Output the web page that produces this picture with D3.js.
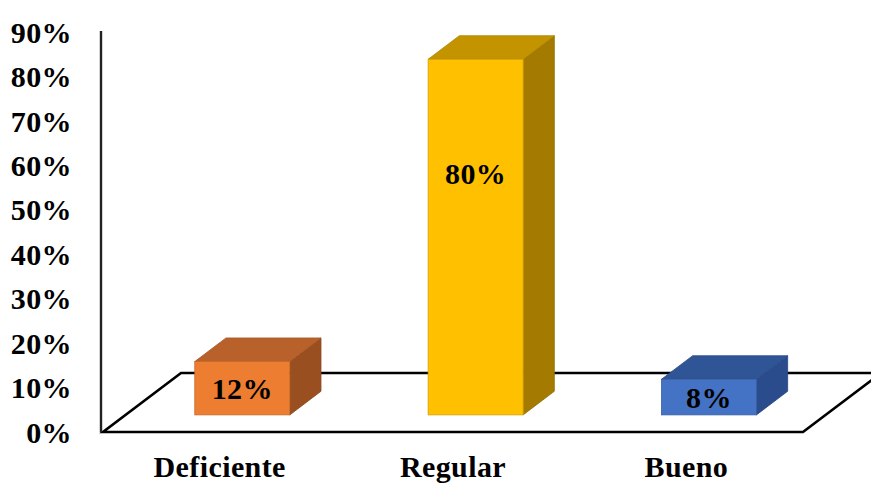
<!DOCTYPE html>
<html>
<head>
<meta charset="utf-8">
<script src="https://cdn.jsdelivr.net/npm/d3@7"></script>
<style>
  html, body { margin: 0; padding: 0; background: #ffffff; }
  svg text { font-family: "Liberation Serif", "Times New Roman", serif; font-weight: bold; fill: #000; letter-spacing: 0.4px; }
</style>
</head>
<body>
<svg id="chart" width="871" height="484"></svg>
<script>
// Chart data
const categories = ["Deficiente", "Regular", "Bueno"];
const values = [0.12, 0.80, 0.08];
const valueLabels = ["12%", "80%", "8%"];
const tickValues = [0, 0.1, 0.2, 0.3, 0.4, 0.5, 0.6, 0.7, 0.8, 0.9];
const frontColors = ["#ED7D31", "#FFC000", "#4472C4"];
const topColors = ["#B9612A", "#C49400", "#2F5597"];
const sideColors = ["#9A4F21", "#A47B00", "#2A4C8C"];

const svg = d3.select("#chart");

// Floor geometry (front edge and depth direction of the 3D floor)
const floorX0 = 103, floorX1 = 803, floorY = 432;
const depthX = 78, depthY = -59;
// Bars occupy the middle slice of the floor depth
const d0 = 0.29, d1 = 0.69;

// Category bands along the floor front edge
const x = d3.scaleBand().domain(categories).range([floorX0, floorX1]).padding(0);
const barWidth = 95;

// Value scale for the axis labels
const y = d3.scaleLinear().domain([0, 0.9]).range([floorY, 32]);
const pxPerUnit = floorY - y(1);

// Floor outline
const floorPts = [
  [floorX0, floorY],
  [floorX1, floorY],
  [floorX1 + depthX, floorY + depthY],
  [floorX0 + depthX, floorY + depthY]
];
svg.append("path")
  .attr("d", d3.line()(floorPts) + "Z")
  .attr("fill", "none")
  .attr("stroke", "#000")
  .attr("stroke-width", 2.6)
  .attr("stroke-linejoin", "miter");

// Vertical axis line
svg.append("line")
  .attr("x1", 101).attr("x2", 101)
  .attr("y1", y(0)).attr("y2", 31)
  .attr("stroke", "#222")
  .attr("stroke-width", 2.4);

// Axis tick labels
const axis = d3.axisLeft(y)
  .tickValues(tickValues)
  .tickFormat(d3.format(".0%"))
  .tickSize(0)
  .tickPadding(0);
const axisG = svg.append("g")
  .attr("transform", "translate(72,0)")
  .call(axis);
axisG.select(".domain").remove();
axisG.selectAll("text")
  .attr("font-size", 30)
  .attr("font-family", null)
  .attr("fill", "#000")
  .attr("dy", "0.34em");

// Bars as 3D boxes
const bars = svg.append("g");
categories.forEach((c, i) => {
  const bx = x(c) + x.bandwidth() / 2 + depthX * d0 - barWidth / 2;
  const by = floorY + depthY * d0;            // front bottom
  const h = values[i] * pxPerUnit;
  const top = by - h;
  const ox = depthX * (d1 - d0), oy = depthY * (d1 - d0);

  const g = bars.append("g");
  // side face
  g.append("path")
    .attr("d", d3.line()([[bx + barWidth, by], [bx + barWidth + ox, by + oy], [bx + barWidth + ox, top + oy], [bx + barWidth, top]]) + "Z")
    .attr("fill", sideColors[i])
    .attr("stroke", d3.color(sideColors[i]).darker(0.3))
    .attr("stroke-width", 0.8);
  // top face
  g.append("path")
    .attr("d", d3.line()([[bx, top], [bx + barWidth, top], [bx + barWidth + ox, top + oy], [bx + ox, top + oy]]) + "Z")
    .attr("fill", topColors[i])
    .attr("stroke", d3.color(topColors[i]).darker(0.3))
    .attr("stroke-width", 0.8);
  // front face
  g.append("rect")
    .attr("x", bx).attr("y", top)
    .attr("width", barWidth).attr("height", h)
    .attr("fill", frontColors[i])
    .attr("stroke", d3.color(frontColors[i]).darker(0.5))
    .attr("stroke-width", 0.8);
  // value label
  g.append("text")
    .attr("x", bx + barWidth / 2)
    .attr("y", top + Math.min(h / 2, 114))
    .attr("dy", "0.35em")
    .attr("text-anchor", "middle")
    .attr("font-size", 30)
    .text(valueLabels[i]);
});

// Category labels under the floor
svg.append("g").selectAll("text")
  .data(categories)
  .join("text")
  .attr("x", d => x(d) + x.bandwidth() / 2)
  .attr("y", 477)
  .attr("text-anchor", "middle")
  .attr("font-size", 30)
  .text(d => d);
</script>
</body>
</html>
